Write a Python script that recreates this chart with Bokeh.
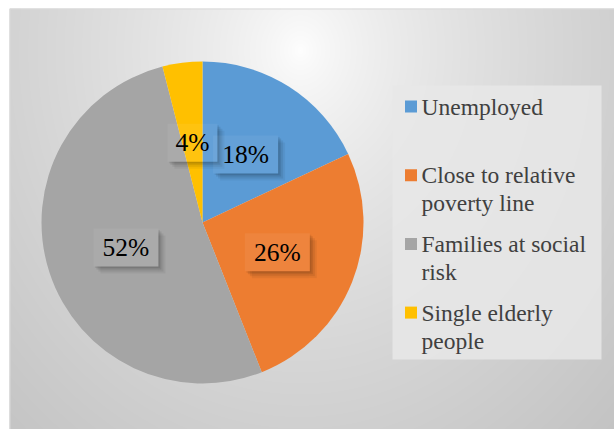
import numpy as np
from bokeh.plotting import figure
from bokeh.models import Range1d, ColumnDataSource
from bokeh.embed import file_html
from bokeh.resources import INLINE
from bokeh.core.properties import value

# ---- data ----
categories = ["Unemployed", "Close to relative poverty line",
              "Families at social risk", "Single elderly people"]
legend_lines = [["Unemployed"], ["Close to relative", "poverty line"],
                ["Families at social", "risk"], ["Single elderly", "people"]]
percent = [18, 26, 52, 4]
labels = ["18%", "26%", "52%", "4%"]
colors = ["#5B9BD5", "#ED7D31", "#A5A5A5", "#FFC000"]

FONT = value("Liberation Serif")

# ---- layout (pixel-like coordinates, y measured from top via Y()) ----
W, H = 614, 429
def Y(py):
    return H - py

p = figure(width=W, height=H, x_range=Range1d(0, W), y_range=Range1d(0, H),
           output_backend="svg", toolbar_location=None, min_border=0)
p.axis.visible = False
p.grid.visible = False
p.outline_line_color = None
p.background_fill_color = "white"
p.border_fill_color = "white"

# chart-area background (radial gradient)
ax0, ay0 = 9, 8
aw, ah = W - ax0, H - ay0
cols = np.arange(aw) + ax0 + 0.5
rows_py = H - (np.arange(ah) + 0.5)
PX, PY = np.meshgrid(cols, rows_py)
d = np.sqrt(((PX - 300) / 330.0) ** 2 + ((PY - 50) / 390.0) ** 2)
v = np.clip(255 - 48 * d ** 0.7, 190, 255).astype(np.uint8)
img = np.empty((ah, aw), dtype=np.uint32)
view = img.view(dtype=np.uint8).reshape((ah, aw, 4))
view[..., 0] = v
view[..., 1] = v
view[..., 2] = v
view[..., 3] = 255
p.image_rgba(image=[img], x=ax0, y=0, dw=aw, dh=ah)
p.quad(left=ax0 + 0.5, right=W + 2, bottom=-2, top=Y(ay0) - 0.5,
       fill_color=None, line_color="#D9D9D9", line_width=1)

# ---- pie ----
cx, cy, r = 202, Y(222), 161
cum = np.concatenate([[0], np.cumsum(percent)])
total = float(sum(percent))
start = np.pi / 2 - 2 * np.pi * cum[:-1] / total
end = np.pi / 2 - 2 * np.pi * cum[1:] / total
src = ColumnDataSource(dict(start=start, end=end, color=colors, cat=categories))
p.wedge(x=cx, y=cy, radius=r, start_angle="start", end_angle="end",
        direction="clock", fill_color="color", line_color=None, source=src)

# ---- data labels ----
mid = (start + end) / 2
lx = cx + 0.5 * r * np.cos(mid)
ly = cy + 0.5 * r * np.sin(mid)
bw = np.array([20 + 15 * len(t) for t in labels], dtype=float)
bh = 38.0
for s, a in [(7, 0.05), (5, 0.07), (3, 0.09), (1.5, 0.08)]:
    p.quad(left=lx + bw / 2, right=lx + bw / 2 + s,
           top=ly + bh / 2 - s, bottom=ly - bh / 2 - s,
           fill_color="black", fill_alpha=a, line_color=None)
    p.quad(left=lx - bw / 2 + s, right=lx + bw / 2,
           top=ly - bh / 2, bottom=ly - bh / 2 - s,
           fill_color="black", fill_alpha=a, line_color=None)
p.quad(left=lx - bw / 2, right=lx + bw / 2, top=ly + bh / 2, bottom=ly - bh / 2,
       fill_color="white", fill_alpha=0.06, line_color=None)
p.text(x=lx, y=ly, text=labels, text_font=FONT,
       text_font_size="25.5px", text_align="center", text_baseline="middle",
       text_color="black")

# ---- legend ----
p.quad(left=392, right=601, top=Y(85), bottom=Y(359),
       fill_color="#E8E8E8", fill_alpha=0.85, line_color=None)
first_y = [Y(106 + 68.7 * i) for i in range(len(categories))]
p.rect(x=410.5, y=first_y, width=12, height=12, fill_color=colors, line_color=None)
tx, ty, tt = [], [], []
for i, lines in enumerate(legend_lines):
    for j, line in enumerate(lines):
        tx.append(421)
        ty.append(first_y[i] - 28 * j)
        tt.append(line)
p.text(x=tx, y=ty, text=tt, text_font=FONT,
       text_font_size="23.5px", text_align="left", text_baseline="middle",
       text_color="#404040")

open("out.html", "w").write(file_html(p, INLINE))
